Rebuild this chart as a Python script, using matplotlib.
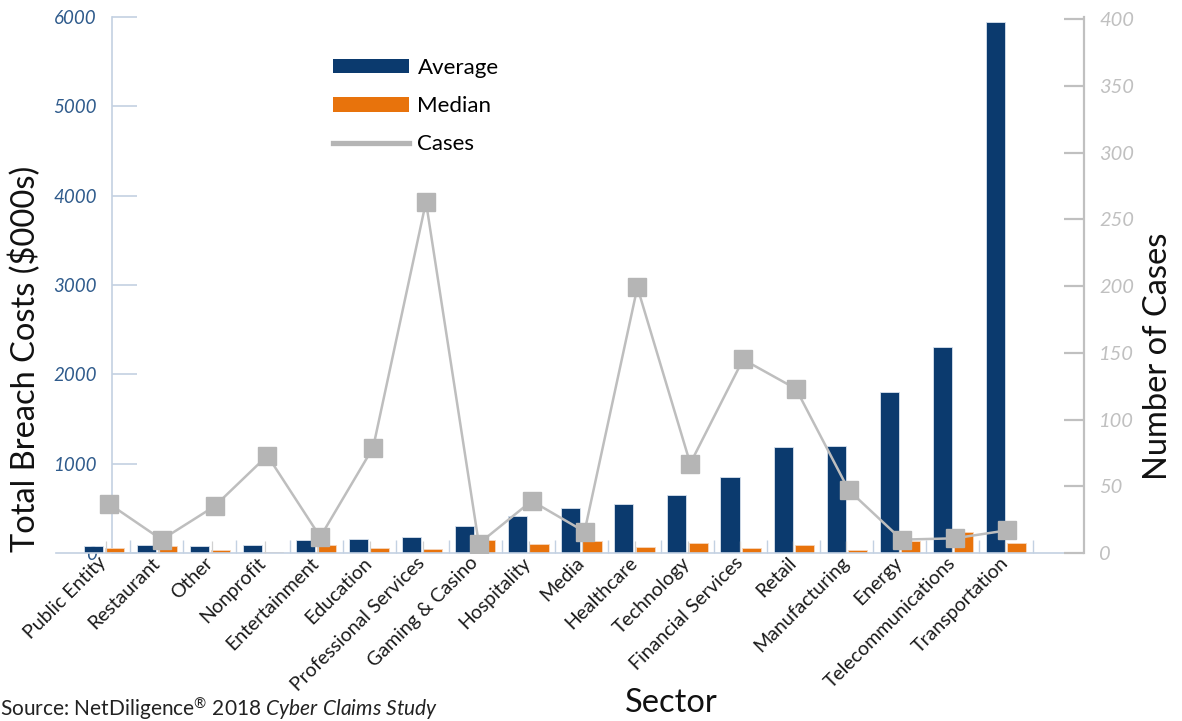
import numpy as np
import matplotlib
matplotlib.use("Agg")
import matplotlib.pyplot as plt
from matplotlib.patches import Patch
from matplotlib.lines import Line2D

plt.rcParams["font.family"] = ["Lato", "DejaVu Sans"]
plt.rcParams["mathtext.fontset"] = "custom"
plt.rcParams["mathtext.rm"] = "Lato"
plt.rcParams["mathtext.it"] = "Lato:italic"

# ---- data -------------------------------------------------------------
sectors = ["Public Entity", "Restaurant", "Other", "Nonprofit", "Entertainment",
           "Education", "Professional Services", "Gaming & Casino", "Hospitality",
           "Media", "Healthcare", "Technology", "Financial Services", "Retail",
           "Manufacturing", "Energy", "Telecommunications", "Transportation"]
average = [80, 85, 80, 85, 145, 155, 175, 300, 410, 505, 550, 645, 855,
           1185, 1200, 1800, 2310, 5945]
median = [52, 75, 37, 15, 86, 60, 41, 142, 100, 134, 71, 115, 52,
          93, 34, 138, 235, 115]
cases = [37, 10, 35, 73, 12, 79, 263, 7, 39, 16, 199, 67, 145,
         123, 47, 10, 11, 17]
cost_ticks = [0, 1000, 2000, 3000, 4000, 5000, 6000]
case_ticks = [0, 50, 100, 150, 200, 250, 300, 350, 400]

# ---- style ------------------------------------------------------------
NAVY = "#0B3A6E"
ORANGE = "#E8730C"
GRAY = "#B5B5B5"
AXBLUE = "#C3D1E2"
LABBLUE = "#2F5B8C"
AXGRAY = "#C0C0C0"

fig = plt.figure(figsize=(11.82, 7.21), dpi=100)
rect = [56 / 1182, 1 - 553 / 721, (1084 - 56) / 1182, (553 - 17) / 721]
ax = fig.add_axes(rect)

# spine placement first: repositioning a spine resets its ticks
ax.spines["left"].set_position(("data", 0.156))
ax.spines["left"].set_color(AXBLUE)
ax.spines["left"].set_linewidth(1.2)
ax.spines["left"].set_zorder(0.5)
ax.spines["bottom"].set_color(AXBLUE)
ax.spines["bottom"].set_linewidth(1.2)
ax.spines["top"].set_visible(False)
ax.spines["right"].set_visible(False)

x = np.arange(len(sectors))
w = 0.36
ax.bar(x - 0.2, average, width=w, color=NAVY, edgecolor="#D8E2EE",
       linewidth=0.6, zorder=2)
ax.bar(x + 0.2, median, width=w, color=ORANGE, edgecolor="#F6D7BC",
       linewidth=0.6, zorder=2)

ax.set_xlim(-0.9, 18.47)
ax.set_ylim(0, 6000)
ax.set_yticks(cost_ticks)
ax.set_yticklabels([str(t) for t in cost_ticks], fontstyle="italic",
                   fontsize=13.5, color=LABBLUE)
ax.tick_params(axis="y", direction="in", length=18, width=1.2, color=AXBLUE,
               pad=11)

ax.set_xticks(x)
ax.set_xticklabels(sectors, rotation=45, ha="right", va="center",
                   rotation_mode="anchor", fontsize=14, color="#1A1A1A")
ax.tick_params(axis="x", which="major", length=0, pad=5)
ax.set_xticks(x + 0.5, minor=True)
ax.tick_params(axis="x", which="minor", direction="in", length=9.5,
               width=1.0, color=AXBLUE)
ax.patch.set_alpha(0)

# ---- cases on a secondary scale ------------------------------------------
ax2 = fig.add_axes(rect)
ax2.patch.set_alpha(0)
ax2.set_xlim(-1.0, 18.45)
ax2.set_ylim(0, 401.5)
ax2.plot(x, cases, color="#BEBEBE", linewidth=1.8, marker="s",
         markersize=13, markerfacecolor=GRAY, markeredgecolor=GRAY, zorder=3)
for side in ("left", "top", "bottom"):
    ax2.spines[side].set_visible(False)
ax2.spines["right"].set_color(AXGRAY)
ax2.spines["right"].set_linewidth(1.6)
ax2.yaxis.tick_right()
ax2.set_yticks(case_ticks)
ax2.set_yticklabels([str(t) for t in case_ticks], fontstyle="italic",
                    fontsize=14.5, color=AXGRAY)
ax2.tick_params(axis="y", direction="in", length=14.5, width=1.6,
                color=AXGRAY, pad=11)
ax2.set_xticks(x - 0.05)
ax2.tick_params(axis="x", direction="in", length=9, width=0.9,
                color="#D0D0D0", labelbottom=False)

# ---- titles -------------------------------------------------------------
fig.text(25 / 1182, 1 - 359 / 721, "Total Breach Costs ($000s)", rotation=90,
         ha="center", va="center", fontsize=23.5, color="#111111")
fig.text(1158 / 1182, 1 - 356 / 721, "Number of Cases", rotation=90,
         ha="center", va="center", fontsize=23.5, color="#111111")
fig.text(671 / 1182, 1 - 703 / 721, "Sector", ha="center", va="center",
         fontsize=23.5, color="#111111")
fig.text(0.0, 1 - 716 / 721,
         r"Source: NetDiligence$^{\mathrm{®}}$ 2018 $\it{Cyber\ Claims\ Study}$",
         ha="left", va="baseline", fontsize=15, color="#222222")

# ---- legend -------------------------------------------------------------
handles = [Patch(facecolor=NAVY, edgecolor="none"),
           Patch(facecolor=ORANGE, edgecolor="none"),
           Line2D([0], [0], color=GRAY, linewidth=3.8)]
fig.legend(handles, ["Average", "Median", "Cases"], loc="upper left",
           bbox_to_anchor=(333 / 1182, 1 - 58 / 721), frameon=False,
           fontsize=16, handlelength=3.4, handleheight=0.63,
           handletextpad=0.4, labelspacing=0.82, borderpad=0,
           borderaxespad=0)

fig.savefig("out.png", dpi=100)
